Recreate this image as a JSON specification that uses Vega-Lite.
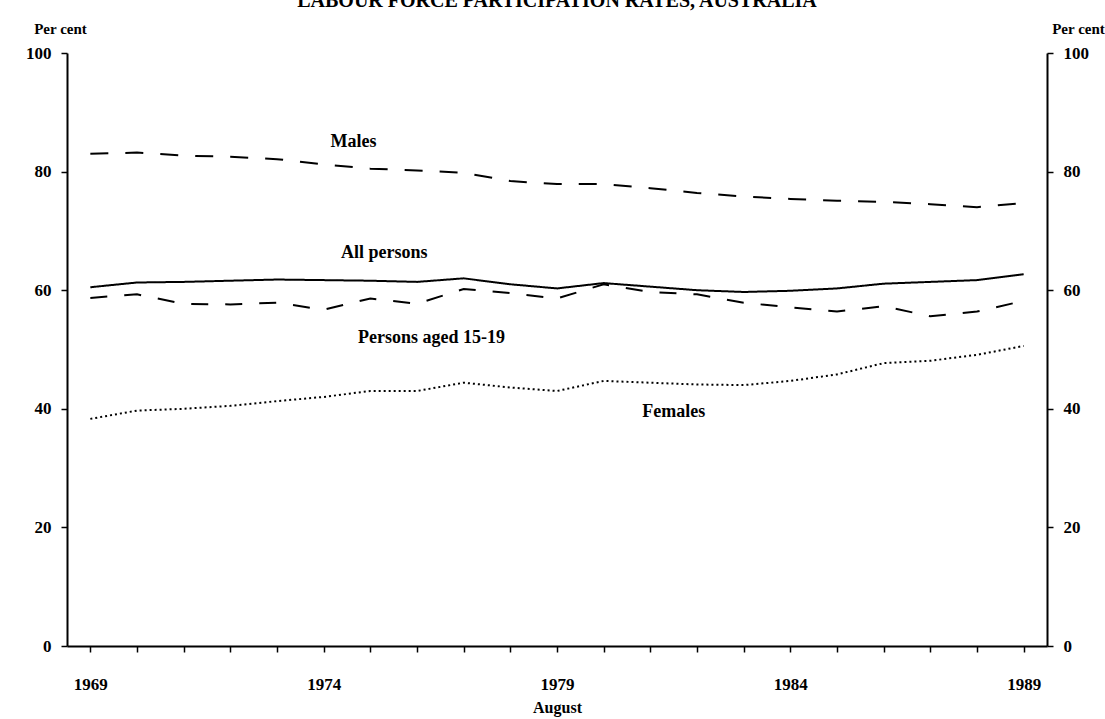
{
  "$schema": "https://vega.github.io/schema/vega-lite/v6.json",
  "autosize": {"type": "none"},
  "width": 980,
  "height": 593,
  "padding": {"left": 67, "top": 53, "right": 58, "bottom": 73},
  "background": "white",
  "title": {
    "text": "LABOUR FORCE PARTICIPATION RATES, AUSTRALIA",
    "offset": 10,
    "fontSize": 20,
    "font": "Liberation Serif",
    "fontWeight": "bold",
    "color": "black",
    "anchor": "middle"
  },
  "config": {
    "view": {"stroke": null},
    "axis": {
      "grid": false,
      "domainColor": "black",
      "domainWidth": 2,
      "tickColor": "black",
      "tickWidth": 1.5,
      "tickSize": 6,
      "labelFont": "Liberation Serif",
      "labelFontWeight": "bold",
      "labelFontSize": 17,
      "labelColor": "black",
      "titleFont": "Liberation Serif",
      "titleFontWeight": "bold",
      "titleFontSize": 15,
      "titleColor": "black"
    },
    "text": {"font": "Liberation Serif", "fontWeight": "bold", "fontSize": 18, "color": "black"}
  },
  "datasets": {
    "rates": [
      {"series": "Males", "year": 1969, "value": 83.0},
      {"series": "Males", "year": 1970, "value": 83.2},
      {"series": "Males", "year": 1971, "value": 82.7},
      {"series": "Males", "year": 1972, "value": 82.5},
      {"series": "Males", "year": 1973, "value": 82.1},
      {"series": "Males", "year": 1974, "value": 81.2},
      {"series": "Males", "year": 1975, "value": 80.5},
      {"series": "Males", "year": 1976, "value": 80.2},
      {"series": "Males", "year": 1977, "value": 79.8},
      {"series": "Males", "year": 1978, "value": 78.4},
      {"series": "Males", "year": 1979, "value": 77.9},
      {"series": "Males", "year": 1980, "value": 77.9},
      {"series": "Males", "year": 1981, "value": 77.2},
      {"series": "Males", "year": 1982, "value": 76.4},
      {"series": "Males", "year": 1983, "value": 75.8},
      {"series": "Males", "year": 1984, "value": 75.4},
      {"series": "Males", "year": 1985, "value": 75.1},
      {"series": "Males", "year": 1986, "value": 74.9},
      {"series": "Males", "year": 1987, "value": 74.5},
      {"series": "Males", "year": 1988, "value": 74.0},
      {"series": "Males", "year": 1989, "value": 74.7},
      {"series": "All persons", "year": 1969, "value": 60.5},
      {"series": "All persons", "year": 1970, "value": 61.3},
      {"series": "All persons", "year": 1971, "value": 61.4},
      {"series": "All persons", "year": 1972, "value": 61.6},
      {"series": "All persons", "year": 1973, "value": 61.8},
      {"series": "All persons", "year": 1974, "value": 61.7},
      {"series": "All persons", "year": 1975, "value": 61.6},
      {"series": "All persons", "year": 1976, "value": 61.4},
      {"series": "All persons", "year": 1977, "value": 62.0},
      {"series": "All persons", "year": 1978, "value": 61.0},
      {"series": "All persons", "year": 1979, "value": 60.3},
      {"series": "All persons", "year": 1980, "value": 61.2},
      {"series": "All persons", "year": 1981, "value": 60.6},
      {"series": "All persons", "year": 1982, "value": 60.0},
      {"series": "All persons", "year": 1983, "value": 59.7},
      {"series": "All persons", "year": 1984, "value": 59.9},
      {"series": "All persons", "year": 1985, "value": 60.3},
      {"series": "All persons", "year": 1986, "value": 61.1},
      {"series": "All persons", "year": 1987, "value": 61.4},
      {"series": "All persons", "year": 1988, "value": 61.7},
      {"series": "All persons", "year": 1989, "value": 62.7},
      {"series": "Persons aged 15-19", "year": 1969, "value": 58.7},
      {"series": "Persons aged 15-19", "year": 1970, "value": 59.3},
      {"series": "Persons aged 15-19", "year": 1971, "value": 57.7},
      {"series": "Persons aged 15-19", "year": 1972, "value": 57.6},
      {"series": "Persons aged 15-19", "year": 1973, "value": 57.9},
      {"series": "Persons aged 15-19", "year": 1974, "value": 56.7},
      {"series": "Persons aged 15-19", "year": 1975, "value": 58.6},
      {"series": "Persons aged 15-19", "year": 1976, "value": 57.7},
      {"series": "Persons aged 15-19", "year": 1977, "value": 60.2},
      {"series": "Persons aged 15-19", "year": 1978, "value": 59.5},
      {"series": "Persons aged 15-19", "year": 1979, "value": 58.6},
      {"series": "Persons aged 15-19", "year": 1980, "value": 61.0},
      {"series": "Persons aged 15-19", "year": 1981, "value": 59.7},
      {"series": "Persons aged 15-19", "year": 1982, "value": 59.3},
      {"series": "Persons aged 15-19", "year": 1983, "value": 57.9},
      {"series": "Persons aged 15-19", "year": 1984, "value": 57.1},
      {"series": "Persons aged 15-19", "year": 1985, "value": 56.4},
      {"series": "Persons aged 15-19", "year": 1986, "value": 57.3},
      {"series": "Persons aged 15-19", "year": 1987, "value": 55.6},
      {"series": "Persons aged 15-19", "year": 1988, "value": 56.4},
      {"series": "Persons aged 15-19", "year": 1989, "value": 58.2},
      {"series": "Females", "year": 1969, "value": 38.3},
      {"series": "Females", "year": 1970, "value": 39.7},
      {"series": "Females", "year": 1971, "value": 40.0},
      {"series": "Females", "year": 1972, "value": 40.5},
      {"series": "Females", "year": 1973, "value": 41.3},
      {"series": "Females", "year": 1974, "value": 42.0},
      {"series": "Females", "year": 1975, "value": 43.0},
      {"series": "Females", "year": 1976, "value": 43.0},
      {"series": "Females", "year": 1977, "value": 44.4},
      {"series": "Females", "year": 1978, "value": 43.6},
      {"series": "Females", "year": 1979, "value": 43.0},
      {"series": "Females", "year": 1980, "value": 44.7},
      {"series": "Females", "year": 1981, "value": 44.4},
      {"series": "Females", "year": 1982, "value": 44.1},
      {"series": "Females", "year": 1983, "value": 44.0},
      {"series": "Females", "year": 1984, "value": 44.7},
      {"series": "Females", "year": 1985, "value": 45.8},
      {"series": "Females", "year": 1986, "value": 47.7},
      {"series": "Females", "year": 1987, "value": 48.1},
      {"series": "Females", "year": 1988, "value": 49.1},
      {"series": "Females", "year": 1989, "value": 50.6}
    ],
    "labels": [
      {"label": "Males", "year": 1974.64, "value": 85.0},
      {"label": "All persons", "year": 1975.3, "value": 66.3},
      {"label": "Persons aged 15-19", "year": 1976.31, "value": 51.9},
      {"label": "Females", "year": 1981.5, "value": 39.5}
    ]
  },
  "encoding": {
    "x": {
      "field": "year",
      "type": "quantitative",
      "scale": {"domain": [1968.5, 1989.5], "nice": false, "zero": false},
      "axis": {
        "title": "August",
        "titleFontSize": 16,
        "titlePadding": 7,
        "values": [1969,1970,1971,1972,1973,1974,1975,1976,1977,1978,1979,1980,1981,1982,1983,1984,1985,1986,1987,1988,1989],
        "labelExpr": "(datum.value - 1969) % 5 == 0 ? format(datum.value, 'd') : ''",
        "labelPadding": 24,
        "labelOverlap": false
      }
    }
  },
  "layer": [
    {
      "data": {"name": "rates"},
      "mark": {"type": "line", "color": "black", "strokeWidth": 2},
      "encoding": {
        "y": {
          "field": "value",
          "type": "quantitative",
          "scale": {"domain": [0, 100], "nice": false},
          "axis": {
            "orient": "left",
            "values": [0, 20, 40, 60, 80, 100],
            "title": "Per cent",
            "titleAngle": 0,
            "titleAlign": "center",
            "titleBaseline": "middle",
            "titleX": -7,
            "titleY": -25,
            "labelPadding": 10
          }
        },
        "strokeDash": {
          "field": "series",
          "type": "nominal",
          "scale": {
            "domain": ["Males", "All persons", "Persons aged 15-19", "Females"],
            "range": [[18, 17], [1, 0], [17, 17], [2, 3]]
          },
          "legend": null
        }
      }
    },
    {
      "data": {"name": "labels"},
      "mark": {"type": "text", "align": "center", "baseline": "middle"},
      "encoding": {
        "y": {
          "field": "value",
          "type": "quantitative",
          "axis": {
            "orient": "right",
            "values": [0, 20, 40, 60, 80, 100],
            "title": "Per cent",
            "titleAngle": 0,
            "titleAlign": "center",
            "titleBaseline": "middle",
            "titleX": 31,
            "titleY": -25,
            "labelPadding": 10
          }
        },
        "text": {"field": "label", "type": "nominal"}
      }
    }
  ],
  "resolve": {"axis": {"y": "independent"}}
}
